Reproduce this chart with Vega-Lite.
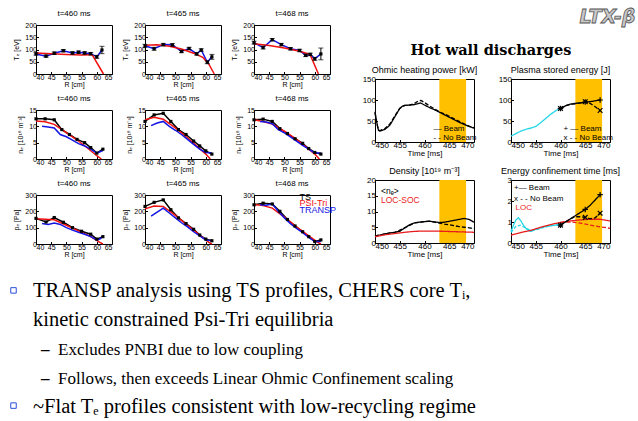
{
"$schema":"https://vega.github.io/schema/vega-lite/v6.json",
"background":"white",
"padding":{"left":8,"top":7,"right":0,"bottom":0},
"autosize":{"type":"pad"},
"datasets":{
"prof":[
{"p":"Te460","s":"TS","R":40,"v":82,"e":5},{"p":"Te460","s":"TS","R":43.3,"v":73,"e":5},{"p":"Te460","s":"TS","R":46,"v":85,"e":5},{"p":"Te460","s":"TS","R":49,"v":95,"e":5},{"p":"Te460","s":"TS","R":52,"v":86,"e":5},{"p":"Te460","s":"TS","R":54,"v":89,"e":5},{"p":"Te460","s":"TS","R":56,"v":86,"e":5},{"p":"Te460","s":"TS","R":58,"v":83,"e":5},{"p":"Te460","s":"TS","R":60,"v":70,"e":6},{"p":"Te460","s":"TS","R":61.7,"v":98,"e":15},
{"p":"Te460","s":"PSI-Tri","R":40,"v":86},{"p":"Te460","s":"PSI-Tri","R":45,"v":83},{"p":"Te460","s":"PSI-Tri","R":50,"v":80},{"p":"Te460","s":"PSI-Tri","R":55,"v":78},{"p":"Te460","s":"PSI-Tri","R":58,"v":79},{"p":"Te460","s":"PSI-Tri","R":58.6,"v":76},{"p":"Te460","s":"PSI-Tri","R":62.2,"v":0},
{"p":"Te465","s":"TS","R":40,"v":115,"e":6},{"p":"Te465","s":"TS","R":43,"v":103,"e":6},{"p":"Te465","s":"TS","R":46,"v":120,"e":5},{"p":"Te465","s":"TS","R":49,"v":119,"e":5},{"p":"Te465","s":"TS","R":52,"v":92,"e":5},{"p":"Te465","s":"TS","R":54.5,"v":104,"e":5},{"p":"Te465","s":"TS","R":57,"v":82,"e":5},{"p":"Te465","s":"TS","R":58.5,"v":98,"e":5},{"p":"Te465","s":"TS","R":60.5,"v":48,"e":6},{"p":"Te465","s":"TS","R":62,"v":70,"e":10},
{"p":"Te465","s":"PSI-Tri","R":40,"v":117},{"p":"Te465","s":"PSI-Tri","R":44,"v":119},{"p":"Te465","s":"PSI-Tri","R":48,"v":113},{"p":"Te465","s":"PSI-Tri","R":52,"v":102},{"p":"Te465","s":"PSI-Tri","R":56,"v":85},{"p":"Te465","s":"PSI-Tri","R":59,"v":68},{"p":"Te465","s":"PSI-Tri","R":61,"v":40},{"p":"Te465","s":"PSI-Tri","R":62.8,"v":0},
{"p":"Te468","s":"TS","R":40,"v":128,"e":6},{"p":"Te468","s":"TS","R":43,"v":108,"e":6},{"p":"Te468","s":"TS","R":46,"v":140,"e":5},{"p":"Te468","s":"TS","R":49,"v":120,"e":5},{"p":"Te468","s":"TS","R":52,"v":103,"e":5},{"p":"Te468","s":"TS","R":55,"v":96,"e":5},{"p":"Te468","s":"TS","R":57,"v":76,"e":5},{"p":"Te468","s":"TS","R":58.5,"v":80,"e":5},{"p":"Te468","s":"TS","R":60,"v":62,"e":6},{"p":"Te468","s":"TS","R":62,"v":82,"e":24},
{"p":"Te468","s":"PSI-Tri","R":40,"v":123},{"p":"Te468","s":"PSI-Tri","R":45,"v":116},{"p":"Te468","s":"PSI-Tri","R":50,"v":106},{"p":"Te468","s":"PSI-Tri","R":55,"v":93},{"p":"Te468","s":"PSI-Tri","R":58,"v":82},{"p":"Te468","s":"PSI-Tri","R":58.5,"v":78},{"p":"Te468","s":"PSI-Tri","R":61.2,"v":0},
{"p":"ne460","s":"TS","R":40,"v":12.3},{"p":"ne460","s":"TS","R":43,"v":12.3},{"p":"ne460","s":"TS","R":46,"v":12},{"p":"ne460","s":"TS","R":48.5,"v":9},{"p":"ne460","s":"TS","R":51,"v":7.5},{"p":"ne460","s":"TS","R":53.5,"v":6},{"p":"ne460","s":"TS","R":56,"v":5},{"p":"ne460","s":"TS","R":58,"v":3.5},{"p":"ne460","s":"TS","R":60,"v":1.8},{"p":"ne460","s":"TS","R":62,"v":3},
{"p":"ne460","s":"PSI-Tri","R":40,"v":11.6},{"p":"ne460","s":"PSI-Tri","R":43,"v":11.4},{"p":"ne460","s":"PSI-Tri","R":46,"v":10.6},{"p":"ne460","s":"PSI-Tri","R":50,"v":8.1},{"p":"ne460","s":"PSI-Tri","R":54,"v":5.5},{"p":"ne460","s":"PSI-Tri","R":57,"v":3.3},{"p":"ne460","s":"PSI-Tri","R":60,"v":1},{"p":"ne460","s":"PSI-Tri","R":61.5,"v":0},
{"p":"ne460","s":"TRANSP","R":42,"v":10},{"p":"ne460","s":"TRANSP","R":44,"v":9.8},{"p":"ne460","s":"TRANSP","R":46,"v":9.5},{"p":"ne460","s":"TRANSP","R":48,"v":7.5},{"p":"ne460","s":"TRANSP","R":50,"v":6.8},{"p":"ne460","s":"TRANSP","R":52,"v":5.8},{"p":"ne460","s":"TRANSP","R":54,"v":4.7},{"p":"ne460","s":"TRANSP","R":56,"v":4},{"p":"ne460","s":"TRANSP","R":58,"v":3},{"p":"ne460","s":"TRANSP","R":60,"v":1.8},{"p":"ne460","s":"TRANSP","R":62,"v":2.6},
{"p":"ne465","s":"TS","R":40,"v":11.5},{"p":"ne465","s":"TS","R":43,"v":13.5},{"p":"ne465","s":"TS","R":46,"v":14},{"p":"ne465","s":"TS","R":48.5,"v":11.5},{"p":"ne465","s":"TS","R":51,"v":9},{"p":"ne465","s":"TS","R":53.5,"v":7.5},{"p":"ne465","s":"TS","R":56,"v":5.5},{"p":"ne465","s":"TS","R":58,"v":4},{"p":"ne465","s":"TS","R":60,"v":2.5},{"p":"ne465","s":"TS","R":62,"v":1.5},
{"p":"ne465","s":"PSI-Tri","R":40,"v":12},{"p":"ne465","s":"PSI-Tri","R":43,"v":12.8},{"p":"ne465","s":"PSI-Tri","R":46,"v":12.2},{"p":"ne465","s":"PSI-Tri","R":50,"v":9.5},{"p":"ne465","s":"PSI-Tri","R":54,"v":6.5},{"p":"ne465","s":"PSI-Tri","R":57,"v":4},{"p":"ne465","s":"PSI-Tri","R":60,"v":1.5},{"p":"ne465","s":"PSI-Tri","R":61.5,"v":0},
{"p":"ne465","s":"TRANSP","R":42,"v":10.2},{"p":"ne465","s":"TRANSP","R":44,"v":11},{"p":"ne465","s":"TRANSP","R":46,"v":11.5},{"p":"ne465","s":"TRANSP","R":48,"v":10},{"p":"ne465","s":"TRANSP","R":50,"v":8.8},{"p":"ne465","s":"TRANSP","R":52,"v":7.5},{"p":"ne465","s":"TRANSP","R":54,"v":6},{"p":"ne465","s":"TRANSP","R":56,"v":4.5},{"p":"ne465","s":"TRANSP","R":58,"v":3},{"p":"ne465","s":"TRANSP","R":60,"v":2},{"p":"ne465","s":"TRANSP","R":62,"v":1.8},
{"p":"ne468","s":"TS","R":40,"v":12},{"p":"ne468","s":"TS","R":43,"v":12.2},{"p":"ne468","s":"TS","R":46,"v":11.5},{"p":"ne468","s":"TS","R":48.5,"v":9.3},{"p":"ne468","s":"TS","R":51,"v":7.8},{"p":"ne468","s":"TS","R":53.5,"v":6.2},{"p":"ne468","s":"TS","R":56,"v":4.8},{"p":"ne468","s":"TS","R":58,"v":3.2},{"p":"ne468","s":"TS","R":60,"v":2},{"p":"ne468","s":"TS","R":62,"v":1.5},
{"p":"ne468","s":"PSI-Tri","R":40,"v":12},{"p":"ne468","s":"PSI-Tri","R":43,"v":11.5},{"p":"ne468","s":"PSI-Tri","R":46,"v":10.7},{"p":"ne468","s":"PSI-Tri","R":50,"v":8.5},{"p":"ne468","s":"PSI-Tri","R":54,"v":6},{"p":"ne468","s":"PSI-Tri","R":57,"v":3.8},{"p":"ne468","s":"PSI-Tri","R":60,"v":1.5},{"p":"ne468","s":"PSI-Tri","R":61.5,"v":0},
{"p":"ne468","s":"TRANSP","R":42,"v":11.5},{"p":"ne468","s":"TRANSP","R":44,"v":11.3},{"p":"ne468","s":"TRANSP","R":46,"v":10.8},{"p":"ne468","s":"TRANSP","R":48,"v":9},{"p":"ne468","s":"TRANSP","R":50,"v":8},{"p":"ne468","s":"TRANSP","R":52,"v":6.8},{"p":"ne468","s":"TRANSP","R":54,"v":5.5},{"p":"ne468","s":"TRANSP","R":56,"v":4.2},{"p":"ne468","s":"TRANSP","R":58,"v":3},{"p":"ne468","s":"TRANSP","R":60,"v":1.8},{"p":"ne468","s":"TRANSP","R":62,"v":1.8},
{"p":"pe460","s":"TS","R":40,"v":157},{"p":"pe460","s":"TS","R":43.3,"v":135},{"p":"pe460","s":"TS","R":46,"v":162},{"p":"pe460","s":"TS","R":49,"v":133},{"p":"pe460","s":"TS","R":52,"v":100},{"p":"pe460","s":"TS","R":55,"v":78},{"p":"pe460","s":"TS","R":58,"v":60},{"p":"pe460","s":"TS","R":60,"v":30},{"p":"pe460","s":"TS","R":62,"v":45},
{"p":"pe460","s":"PSI-Tri","R":40,"v":155},{"p":"pe460","s":"PSI-Tri","R":43,"v":152},{"p":"pe460","s":"PSI-Tri","R":46,"v":148},{"p":"pe460","s":"PSI-Tri","R":50,"v":115},{"p":"pe460","s":"PSI-Tri","R":54,"v":80},{"p":"pe460","s":"PSI-Tri","R":58,"v":45},{"p":"pe460","s":"PSI-Tri","R":61,"v":10},{"p":"pe460","s":"PSI-Tri","R":62,"v":0},
{"p":"pe460","s":"TRANSP","R":42,"v":125},{"p":"pe460","s":"TRANSP","R":44,"v":120},{"p":"pe460","s":"TRANSP","R":46,"v":128},{"p":"pe460","s":"TRANSP","R":48,"v":120},{"p":"pe460","s":"TRANSP","R":50,"v":100},{"p":"pe460","s":"TRANSP","R":52,"v":85},{"p":"pe460","s":"TRANSP","R":54,"v":72},{"p":"pe460","s":"TRANSP","R":56,"v":60},{"p":"pe460","s":"TRANSP","R":58,"v":45},{"p":"pe460","s":"TRANSP","R":60,"v":25},{"p":"pe460","s":"TRANSP","R":61,"v":30},{"p":"pe460","s":"TRANSP","R":62,"v":45},
{"p":"pe465","s":"TS","R":40,"v":230},{"p":"pe465","s":"TS","R":43,"v":255},{"p":"pe465","s":"TS","R":46,"v":270},{"p":"pe465","s":"TS","R":48.5,"v":210},{"p":"pe465","s":"TS","R":51,"v":160},{"p":"pe465","s":"TS","R":53.5,"v":125},{"p":"pe465","s":"TS","R":56,"v":90},{"p":"pe465","s":"TS","R":58,"v":55},{"p":"pe465","s":"TS","R":60,"v":30},{"p":"pe465","s":"TS","R":62,"v":20},
{"p":"pe465","s":"PSI-Tri","R":40,"v":215},{"p":"pe465","s":"PSI-Tri","R":43,"v":232},{"p":"pe465","s":"PSI-Tri","R":46,"v":230},{"p":"pe465","s":"PSI-Tri","R":50,"v":175},{"p":"pe465","s":"PSI-Tri","R":54,"v":115},{"p":"pe465","s":"PSI-Tri","R":58,"v":55},{"p":"pe465","s":"PSI-Tri","R":61,"v":10},{"p":"pe465","s":"PSI-Tri","R":62,"v":0},
{"p":"pe465","s":"TRANSP","R":42,"v":170},{"p":"pe465","s":"TRANSP","R":44,"v":195},{"p":"pe465","s":"TRANSP","R":46,"v":220},{"p":"pe465","s":"TRANSP","R":48,"v":190},{"p":"pe465","s":"TRANSP","R":50,"v":160},{"p":"pe465","s":"TRANSP","R":52,"v":130},{"p":"pe465","s":"TRANSP","R":54,"v":105},{"p":"pe465","s":"TRANSP","R":56,"v":75},{"p":"pe465","s":"TRANSP","R":58,"v":50},{"p":"pe465","s":"TRANSP","R":60,"v":25},{"p":"pe465","s":"TRANSP","R":62,"v":20},
{"p":"pe468","s":"TS","R":40,"v":240},{"p":"pe468","s":"TS","R":43,"v":250},{"p":"pe468","s":"TS","R":46,"v":245},{"p":"pe468","s":"TS","R":48.5,"v":200},{"p":"pe468","s":"TS","R":51,"v":150},{"p":"pe468","s":"TS","R":53.5,"v":110},{"p":"pe468","s":"TS","R":56,"v":75},{"p":"pe468","s":"TS","R":58,"v":45},{"p":"pe468","s":"TS","R":60,"v":15},{"p":"pe468","s":"TS","R":62,"v":25},
{"p":"pe468","s":"PSI-Tri","R":40,"v":242},{"p":"pe468","s":"PSI-Tri","R":43,"v":235},{"p":"pe468","s":"PSI-Tri","R":46,"v":220},{"p":"pe468","s":"PSI-Tri","R":50,"v":165},{"p":"pe468","s":"PSI-Tri","R":54,"v":105},{"p":"pe468","s":"PSI-Tri","R":58,"v":50},{"p":"pe468","s":"PSI-Tri","R":61,"v":10},{"p":"pe468","s":"PSI-Tri","R":62,"v":0},
{"p":"pe468","s":"TRANSP","R":42,"v":240},{"p":"pe468","s":"TRANSP","R":44,"v":238},{"p":"pe468","s":"TRANSP","R":46,"v":245},{"p":"pe468","s":"TRANSP","R":48,"v":200},{"p":"pe468","s":"TRANSP","R":50,"v":160},{"p":"pe468","s":"TRANSP","R":52,"v":125},{"p":"pe468","s":"TRANSP","R":54,"v":95},{"p":"pe468","s":"TRANSP","R":56,"v":70},{"p":"pe468","s":"TRANSP","R":58,"v":40},{"p":"pe468","s":"TRANSP","R":60,"v":15},{"p":"pe468","s":"TRANSP","R":62,"v":15},
{"p":"pe468","s":"TS","R":55,"v":288,"label":"TS"},{"p":"pe468","s":"PSI-Tri","R":55,"v":248,"label":"PSI-Tri"},{"p":"pe468","s":"TRANSP","R":55,"v":208,"label":"TRANSP"}
],
"time":[
{"p":"ohm","s":"Beam","t":450,"v":72},{"p":"ohm","s":"Beam","t":450.3,"v":50},{"p":"ohm","s":"Beam","t":450.7,"v":28},{"p":"ohm","s":"Beam","t":451,"v":26},{"p":"ohm","s":"Beam","t":452,"v":30},{"p":"ohm","s":"Beam","t":453,"v":40},{"p":"ohm","s":"Beam","t":454,"v":60},{"p":"ohm","s":"Beam","t":455,"v":80},{"p":"ohm","s":"Beam","t":455.5,"v":85},{"p":"ohm","s":"Beam","t":456,"v":87},{"p":"ohm","s":"Beam","t":457,"v":88},{"p":"ohm","s":"Beam","t":458,"v":89},{"p":"ohm","s":"Beam","t":458.6,"v":91},{"p":"ohm","s":"Beam","t":459.2,"v":93},{"p":"ohm","s":"Beam","t":460,"v":88},{"p":"ohm","s":"Beam","t":461,"v":82},{"p":"ohm","s":"Beam","t":462,"v":77},{"p":"ohm","s":"Beam","t":463,"v":71},{"p":"ohm","s":"Beam","t":464,"v":65},{"p":"ohm","s":"Beam","t":465,"v":59},{"p":"ohm","s":"Beam","t":466,"v":53},{"p":"ohm","s":"Beam","t":467,"v":47},{"p":"ohm","s":"Beam","t":468,"v":42},{"p":"ohm","s":"Beam","t":469,"v":37},{"p":"ohm","s":"Beam","t":470,"v":33},
{"p":"ohm","s":"No Beam","t":450,"v":70},{"p":"ohm","s":"No Beam","t":450.3,"v":48},{"p":"ohm","s":"No Beam","t":450.7,"v":28},{"p":"ohm","s":"No Beam","t":451,"v":27},{"p":"ohm","s":"No Beam","t":452,"v":32},{"p":"ohm","s":"No Beam","t":453,"v":43},{"p":"ohm","s":"No Beam","t":454,"v":62},{"p":"ohm","s":"No Beam","t":455,"v":80},{"p":"ohm","s":"No Beam","t":456,"v":87},{"p":"ohm","s":"No Beam","t":457,"v":88},{"p":"ohm","s":"No Beam","t":458,"v":92},{"p":"ohm","s":"No Beam","t":458.8,"v":98},{"p":"ohm","s":"No Beam","t":459.3,"v":99},{"p":"ohm","s":"No Beam","t":460,"v":94},{"p":"ohm","s":"No Beam","t":461,"v":86},{"p":"ohm","s":"No Beam","t":462,"v":79},{"p":"ohm","s":"No Beam","t":463,"v":72},{"p":"ohm","s":"No Beam","t":464,"v":67},{"p":"ohm","s":"No Beam","t":465,"v":61},{"p":"ohm","s":"No Beam","t":466,"v":55},{"p":"ohm","s":"No Beam","t":467,"v":49},{"p":"ohm","s":"No Beam","t":468,"v":43},{"p":"ohm","s":"No Beam","t":469,"v":38},{"p":"ohm","s":"No Beam","t":470,"v":34},
{"p":"wst","s":"Pre","t":450,"v":14},{"p":"wst","s":"Pre","t":451,"v":20},{"p":"wst","s":"Pre","t":452,"v":26},{"p":"wst","s":"Pre","t":453,"v":30},{"p":"wst","s":"Pre","t":454,"v":33},{"p":"wst","s":"Pre","t":455,"v":37},{"p":"wst","s":"Pre","t":456,"v":46},{"p":"wst","s":"Pre","t":457,"v":56},{"p":"wst","s":"Pre","t":458,"v":66},{"p":"wst","s":"Pre","t":459,"v":74},{"p":"wst","s":"Pre","t":460,"v":82},
{"p":"wst","s":"Beam","t":460,"v":80},{"p":"wst","s":"Beam","t":461,"v":86},{"p":"wst","s":"Beam","t":462,"v":90},{"p":"wst","s":"Beam","t":463,"v":92},{"p":"wst","s":"Beam","t":464,"v":93},{"p":"wst","s":"Beam","t":465,"v":95},{"p":"wst","s":"Beam","t":466,"v":96},{"p":"wst","s":"Beam","t":467,"v":98},{"p":"wst","s":"Beam","t":468,"v":100},
{"p":"wst","s":"No Beam","t":460,"v":80},{"p":"wst","s":"No Beam","t":461,"v":86},{"p":"wst","s":"No Beam","t":462,"v":90},{"p":"wst","s":"No Beam","t":463,"v":91},{"p":"wst","s":"No Beam","t":464,"v":93},{"p":"wst","s":"No Beam","t":465,"v":96},{"p":"wst","s":"No Beam","t":466,"v":92},{"p":"wst","s":"No Beam","t":467,"v":84},{"p":"wst","s":"No Beam","t":468,"v":75},
{"p":"den","s":"Beam","t":450,"v":2.2},{"p":"den","s":"Beam","t":451,"v":2.5},{"p":"den","s":"Beam","t":452,"v":2.9},{"p":"den","s":"Beam","t":453,"v":3.2},{"p":"den","s":"Beam","t":454,"v":3.4},{"p":"den","s":"Beam","t":455,"v":3.7},{"p":"den","s":"Beam","t":456,"v":4.8},{"p":"den","s":"Beam","t":457,"v":5.8},{"p":"den","s":"Beam","t":458,"v":6.4},{"p":"den","s":"Beam","t":459,"v":6.6},{"p":"den","s":"Beam","t":460,"v":6.8},{"p":"den","s":"Beam","t":461,"v":6.9},{"p":"den","s":"Beam","t":462,"v":6.7},{"p":"den","s":"Beam","t":463,"v":6.5},{"p":"den","s":"Beam","t":464,"v":6.6},{"p":"den","s":"Beam","t":465,"v":6.9},{"p":"den","s":"Beam","t":466,"v":7.2},{"p":"den","s":"Beam","t":467,"v":7.5},{"p":"den","s":"Beam","t":468,"v":7.8},{"p":"den","s":"Beam","t":469,"v":7.5},{"p":"den","s":"Beam","t":470,"v":6.6},
{"p":"den","s":"No Beam","t":450,"v":2.2},{"p":"den","s":"No Beam","t":452,"v":2.9},{"p":"den","s":"No Beam","t":454,"v":3.4},{"p":"den","s":"No Beam","t":456,"v":4.8},{"p":"den","s":"No Beam","t":458,"v":6.4},{"p":"den","s":"No Beam","t":460,"v":6.8},{"p":"den","s":"No Beam","t":461,"v":6.9},{"p":"den","s":"No Beam","t":462,"v":6.6},{"p":"den","s":"No Beam","t":463,"v":6.3},{"p":"den","s":"No Beam","t":464,"v":6.0},{"p":"den","s":"No Beam","t":465,"v":5.8},{"p":"den","s":"No Beam","t":466,"v":5.5},{"p":"den","s":"No Beam","t":467,"v":5.2},{"p":"den","s":"No Beam","t":468,"v":5.0},{"p":"den","s":"No Beam","t":469,"v":4.8},{"p":"den","s":"No Beam","t":470,"v":4.6},
{"p":"den","s":"LOC","t":450,"v":2.0},{"p":"den","s":"LOC","t":452,"v":2.6},{"p":"den","s":"LOC","t":454,"v":3.0},{"p":"den","s":"LOC","t":456,"v":3.4},{"p":"den","s":"LOC","t":458,"v":3.7},{"p":"den","s":"LOC","t":460,"v":3.8},{"p":"den","s":"LOC","t":462,"v":3.8},{"p":"den","s":"LOC","t":464,"v":3.7},{"p":"den","s":"LOC","t":466,"v":3.6},{"p":"den","s":"LOC","t":468,"v":3.5},{"p":"den","s":"LOC","t":470,"v":3.4},
{"p":"tau","s":"Pre","t":450,"v":0.55},{"p":"tau","s":"Pre","t":450.5,"v":0.85},{"p":"tau","s":"Pre","t":451,"v":1.1},{"p":"tau","s":"Pre","t":451.5,"v":1.2},{"p":"tau","s":"Pre","t":452,"v":1.05},{"p":"tau","s":"Pre","t":452.5,"v":0.85},{"p":"tau","s":"Pre","t":453,"v":0.7},{"p":"tau","s":"Pre","t":453.5,"v":0.6},{"p":"tau","s":"Pre","t":454,"v":0.55},{"p":"tau","s":"Pre","t":455,"v":0.65},{"p":"tau","s":"Pre","t":456,"v":0.72},{"p":"tau","s":"Pre","t":457,"v":0.78},{"p":"tau","s":"Pre","t":458,"v":0.82},{"p":"tau","s":"Pre","t":459,"v":0.85},{"p":"tau","s":"Pre","t":460,"v":0.85},
{"p":"tau","s":"Pre NB","t":450,"v":0.5},{"p":"tau","s":"Pre NB","t":451,"v":0.8},{"p":"tau","s":"Pre NB","t":452,"v":0.85},{"p":"tau","s":"Pre NB","t":453,"v":0.7},{"p":"tau","s":"Pre NB","t":454,"v":0.6},{"p":"tau","s":"Pre NB","t":455,"v":0.62},{"p":"tau","s":"Pre NB","t":456,"v":0.7},{"p":"tau","s":"Pre NB","t":457,"v":0.77},{"p":"tau","s":"Pre NB","t":458,"v":0.82},{"p":"tau","s":"Pre NB","t":459,"v":0.86},{"p":"tau","s":"Pre NB","t":460,"v":0.88},
{"p":"tau","s":"LOC","t":450,"v":0.38},{"p":"tau","s":"LOC","t":452,"v":0.5},{"p":"tau","s":"LOC","t":454,"v":0.6},{"p":"tau","s":"LOC","t":456,"v":0.75},{"p":"tau","s":"LOC","t":458,"v":0.88},{"p":"tau","s":"LOC","t":460,"v":0.98},{"p":"tau","s":"LOC","t":462,"v":1.05},{"p":"tau","s":"LOC","t":464,"v":1.1},{"p":"tau","s":"LOC","t":466,"v":1.13},{"p":"tau","s":"LOC","t":468,"v":1.13},{"p":"tau","s":"LOC","t":470,"v":1.05},
{"p":"tau","s":"LOC NB","t":460,"v":0.98},{"p":"tau","s":"LOC NB","t":462,"v":1.0},{"p":"tau","s":"LOC NB","t":464,"v":0.95},{"p":"tau","s":"LOC NB","t":466,"v":0.85},{"p":"tau","s":"LOC NB","t":468,"v":0.77},{"p":"tau","s":"LOC NB","t":470,"v":0.7},
{"p":"tau","s":"Beam","t":460,"v":0.85},{"p":"tau","s":"Beam","t":461,"v":1.0},{"p":"tau","s":"Beam","t":462,"v":1.15},{"p":"tau","s":"Beam","t":463,"v":1.3},{"p":"tau","s":"Beam","t":464,"v":1.45},{"p":"tau","s":"Beam","t":465,"v":1.6},{"p":"tau","s":"Beam","t":466,"v":1.8},{"p":"tau","s":"Beam","t":467,"v":2.05},{"p":"tau","s":"Beam","t":468,"v":2.3},
{"p":"tau","s":"No Beam","t":460,"v":0.85},{"p":"tau","s":"No Beam","t":461,"v":1.0},{"p":"tau","s":"No Beam","t":462,"v":1.15},{"p":"tau","s":"No Beam","t":463,"v":1.25},{"p":"tau","s":"No Beam","t":464,"v":1.25},{"p":"tau","s":"No Beam","t":465,"v":1.22},{"p":"tau","s":"No Beam","t":466,"v":1.15},{"p":"tau","s":"No Beam","t":467,"v":1.2},{"p":"tau","s":"No Beam","t":468,"v":1.42}
],
"win":[{"t0":463,"t1":468.4}],
"ann":[
{"p":"ohm","s":"Beam","t":461.8,"v":30,"label":"— Beam"},
{"p":"ohm","s":"No Beam","t":461.8,"v":10,"label":"- - No Beam"},
{"p":"wst","s":"Beam","t":460.6,"v":30,"label":"+ — Beam"},
{"p":"wst","s":"No Beam","t":460.6,"v":9,"label":"x - - No Beam"},
{"p":"den","s":"Beam","t":451.2,"v":16.4,"label":"<nₑ>"},
{"p":"den","s":"LOC","t":451.2,"v":13.8,"label":"LOC-SOC"},
{"p":"tau","s":"Beam","t":450.6,"v":2.6,"label":"+— Beam"},
{"p":"tau","s":"No Beam","t":450.6,"v":2.1,"label":"x - - No Beam"},
{"p":"tau","s":"LOC","t":450.9,"v":1.68,"label":"LOC"}
],
"bul":[
{"row":1,"level":0,"kind":"bullet"},
{"row":1,"level":0,"kind":"text","txt":"TRANSP analysis using TS profiles, CHERS core Tᵢ,"},
{"row":2,"level":0,"kind":"text","txt":"kinetic constrained Psi-Tri equilibria"},
{"row":3,"level":1,"kind":"dash","txt":"–"},
{"row":3,"level":1,"kind":"text","txt":"Excludes PNBI due to low coupling"},
{"row":4,"level":1,"kind":"dash","txt":"–"},
{"row":4,"level":1,"kind":"text","txt":"Follows, then exceeds Linear Ohmic Confinement scaling"},
{"row":5,"level":0,"kind":"bullet"},
{"row":5,"level":0,"kind":"text","txt":"~Flat Tₑ profiles consistent with low-recycling regime"}
]
},
"vconcat":[
{"hconcat":[
 {"concat":[
   {"title":"t=460 ms","width":76,"height":49,"data":{"name":"prof"},"transform":[{"filter":"datum.p=='Te460'"}],
    "encoding":{"x":{"field":"R","type":"quantitative","scale":{"domain":[40,65]},"axis":{"values":[40,45,50,55,60,65],"title":"R [cm]"}},"y":{"field":"v","type":"quantitative","scale":{"domain":[0,200]},"axis":{"values":[0,50,100,150,200],"title":"Tₑ [eV]"}},"color":{"field":"s","type":"nominal","scale":{"domain":["TS","PSI-Tri","TRANSP"],"range":["#000000","#f01010","#1414e6"]},"legend":null}},
    "layer":[
     {"transform":[{"filter":"datum.s=='TS'"}],"mark":{"type":"line","strokeWidth":1.5},"encoding":{"color":{"value":"#1414e6"}}},
     {"transform":[{"filter":"datum.s=='PSI-Tri'"}],"mark":{"type":"line","strokeWidth":1.5}},
     {"transform":[{"filter":"datum.s=='TS'"}],"mark":{"type":"errorbar","ticks":true},"encoding":{"yError":{"field":"e"}}},
     {"transform":[{"filter":"datum.s=='TS'"}],"mark":{"type":"point","shape":"square","filled":true,"size":10,"opacity":1}}
    ]},
   {"title":"t=465 ms","width":76,"height":49,"data":{"name":"prof"},"transform":[{"filter":"datum.p=='Te465'"}],
    "encoding":{"x":{"field":"R","type":"quantitative","scale":{"domain":[40,65]},"axis":{"values":[40,45,50,55,60,65],"title":"R [cm]"}},"y":{"field":"v","type":"quantitative","scale":{"domain":[0,200]},"axis":{"values":[0,50,100,150,200],"title":"Tₑ [eV]"}},"color":{"field":"s","type":"nominal","scale":{"domain":["TS","PSI-Tri","TRANSP"],"range":["#000000","#f01010","#1414e6"]},"legend":null}},
    "layer":[
     {"transform":[{"filter":"datum.s=='TS'"}],"mark":{"type":"line","strokeWidth":1.5},"encoding":{"color":{"value":"#1414e6"}}},
     {"transform":[{"filter":"datum.s=='PSI-Tri'"}],"mark":{"type":"line","strokeWidth":1.5}},
     {"transform":[{"filter":"datum.s=='TS'"}],"mark":{"type":"errorbar","ticks":true},"encoding":{"yError":{"field":"e"}}},
     {"transform":[{"filter":"datum.s=='TS'"}],"mark":{"type":"point","shape":"square","filled":true,"size":10,"opacity":1}}
    ]},
   {"title":"t=468 ms","width":76,"height":49,"data":{"name":"prof"},"transform":[{"filter":"datum.p=='Te468'"}],
    "encoding":{"x":{"field":"R","type":"quantitative","scale":{"domain":[40,65]},"axis":{"values":[40,45,50,55,60,65],"title":"R [cm]"}},"y":{"field":"v","type":"quantitative","scale":{"domain":[0,200]},"axis":{"values":[0,50,100,150,200],"title":"Tₑ [eV]"}},"color":{"field":"s","type":"nominal","scale":{"domain":["TS","PSI-Tri","TRANSP"],"range":["#000000","#f01010","#1414e6"]},"legend":null}},
    "layer":[
     {"transform":[{"filter":"datum.s=='TS'"}],"mark":{"type":"line","strokeWidth":1.5},"encoding":{"color":{"value":"#1414e6"}}},
     {"transform":[{"filter":"datum.s=='PSI-Tri'"}],"mark":{"type":"line","strokeWidth":1.5}},
     {"transform":[{"filter":"datum.s=='TS'"}],"mark":{"type":"errorbar","ticks":true},"encoding":{"yError":{"field":"e"}}},
     {"transform":[{"filter":"datum.s=='TS'"}],"mark":{"type":"point","shape":"square","filled":true,"size":10,"opacity":1}}
    ]},
   {"title":"t=460 ms","width":76,"height":49,"data":{"name":"prof"},"transform":[{"filter":"datum.p=='ne460'"}],
    "encoding":{"x":{"field":"R","type":"quantitative","scale":{"domain":[40,65]},"axis":{"values":[40,45,50,55,60,65],"title":"R [cm]"}},"y":{"field":"v","type":"quantitative","scale":{"domain":[0,15]},"axis":{"values":[0,5,10,15],"title":"nₑ [10¹⁸ m⁻³]"}},"color":{"field":"s","type":"nominal","scale":{"domain":["TS","PSI-Tri","TRANSP"],"range":["#000000","#f01010","#1414e6"]},"legend":null}},
    "layer":[
     {"mark":{"type":"line","strokeWidth":1.5}},
     {"transform":[{"filter":"datum.s=='TS'"}],"mark":{"type":"point","shape":"square","filled":true,"size":10,"opacity":1}}
    ]},
   {"title":"t=465 ms","width":76,"height":49,"data":{"name":"prof"},"transform":[{"filter":"datum.p=='ne465'"}],
    "encoding":{"x":{"field":"R","type":"quantitative","scale":{"domain":[40,65]},"axis":{"values":[40,45,50,55,60,65],"title":"R [cm]"}},"y":{"field":"v","type":"quantitative","scale":{"domain":[0,15]},"axis":{"values":[0,5,10,15],"title":"nₑ [10¹⁸ m⁻³]"}},"color":{"field":"s","type":"nominal","scale":{"domain":["TS","PSI-Tri","TRANSP"],"range":["#000000","#f01010","#1414e6"]},"legend":null}},
    "layer":[
     {"mark":{"type":"line","strokeWidth":1.5}},
     {"transform":[{"filter":"datum.s=='TS'"}],"mark":{"type":"point","shape":"square","filled":true,"size":10,"opacity":1}}
    ]},
   {"title":"t=468 ms","width":76,"height":49,"data":{"name":"prof"},"transform":[{"filter":"datum.p=='ne468'"}],
    "encoding":{"x":{"field":"R","type":"quantitative","scale":{"domain":[40,65]},"axis":{"values":[40,45,50,55,60,65],"title":"R [cm]"}},"y":{"field":"v","type":"quantitative","scale":{"domain":[0,15]},"axis":{"values":[0,5,10,15],"title":"nₑ [10¹⁸ m⁻³]"}},"color":{"field":"s","type":"nominal","scale":{"domain":["TS","PSI-Tri","TRANSP"],"range":["#000000","#f01010","#1414e6"]},"legend":null}},
    "layer":[
     {"mark":{"type":"line","strokeWidth":1.5}},
     {"transform":[{"filter":"datum.s=='TS'"}],"mark":{"type":"point","shape":"square","filled":true,"size":10,"opacity":1}}
    ]},
   {"title":"t=460 ms","width":76,"height":49,"data":{"name":"prof"},"transform":[{"filter":"datum.p=='pe460'"}],
    "encoding":{"x":{"field":"R","type":"quantitative","scale":{"domain":[40,65]},"axis":{"values":[40,45,50,55,60,65],"title":"R [cm]"}},"y":{"field":"v","type":"quantitative","scale":{"domain":[0,300]},"axis":{"values":[0,100,200,300],"title":"pₑ [Pa]"}},"color":{"field":"s","type":"nominal","scale":{"domain":["TS","PSI-Tri","TRANSP"],"range":["#000000","#f01010","#1414e6"]},"legend":null}},
    "layer":[
     {"mark":{"type":"line","strokeWidth":1.5}},
     {"transform":[{"filter":"datum.s=='TS'"}],"mark":{"type":"point","shape":"square","filled":true,"size":10,"opacity":1}}
    ]},
   {"title":"t=465 ms","width":76,"height":49,"data":{"name":"prof"},"transform":[{"filter":"datum.p=='pe465'"}],
    "encoding":{"x":{"field":"R","type":"quantitative","scale":{"domain":[40,65]},"axis":{"values":[40,45,50,55,60,65],"title":"R [cm]"}},"y":{"field":"v","type":"quantitative","scale":{"domain":[0,300]},"axis":{"values":[0,100,200,300],"title":"pₑ [Pa]"}},"color":{"field":"s","type":"nominal","scale":{"domain":["TS","PSI-Tri","TRANSP"],"range":["#000000","#f01010","#1414e6"]},"legend":null}},
    "layer":[
     {"mark":{"type":"line","strokeWidth":1.5}},
     {"transform":[{"filter":"datum.s=='TS'"}],"mark":{"type":"point","shape":"square","filled":true,"size":10,"opacity":1}}
    ]},
   {"title":"t=468 ms","width":76,"height":49,"data":{"name":"prof"},"transform":[{"filter":"datum.p=='pe468'"}],
    "encoding":{"x":{"field":"R","type":"quantitative","scale":{"domain":[40,65]},"axis":{"values":[40,45,50,55,60,65],"title":"R [cm]"}},"y":{"field":"v","type":"quantitative","scale":{"domain":[0,300]},"axis":{"values":[0,100,200,300],"title":"pₑ [Pa]"}},"color":{"field":"s","type":"nominal","scale":{"domain":["TS","PSI-Tri","TRANSP"],"range":["#000000","#f01010","#1414e6"]},"legend":null}},
    "layer":[
     {"transform":[{"filter":"!datum.label"}],"mark":{"type":"line","strokeWidth":1.5}},
     {"transform":[{"filter":"datum.s=='TS' && !datum.label"}],"mark":{"type":"point","shape":"square","filled":true,"size":10,"opacity":1}},
     {"transform":[{"filter":"datum.label"}],"mark":{"type":"text","align":"left","baseline":"middle","fontSize":9},"encoding":{"text":{"field":"label"}}}
    ]}
 ],"columns":3,"spacing":{"row":36,"column":33},"bounds":"flush"},
 {"vconcat":[
  {"width":235,"height":37,"view":{"stroke":null},"data":{"values":[{}]},
   "layer":[
    {"mark":{"type":"text","font":"DejaVu Serif","fontWeight":"bold","fontSize":14.5,"dx":-1.5,"dy":7.5,"color":"#000000"},"encoding":{"text":{"value":"Hot wall discharges"}}},
    {"mark":{"type":"text","font":"DejaVu Sans","fontStyle":"italic","fontWeight":"bold","fontSize":19,"dx":115,"dy":-27,"color":"#c8c8c8","stroke":"#555555","strokeWidth":0.8},"encoding":{"text":{"value":"LTX-β"}}}
   ]},
  {"concat":[
    {"title":{"text":"Ohmic heating power [kW]","fontSize":9,"offset":0},"width":99,"height":63,
     "encoding":{"x":{"field":"t","type":"quantitative","scale":{"domain":[450,470]},"axis":{"values":[450,455,460,465,470],"title":"Time [ms]","labelFontSize":8,"titleFontSize":8,"labelOverlap":false}},"y":{"field":"v","type":"quantitative","scale":{"domain":[0,150]},"axis":{"values":[0,50,100,150],"title":null,"labelFontSize":8,"labelOverlap":false}},"color":{"field":"s","type":"nominal","scale":{"domain":["Beam","No Beam","Pre","Pre NB","LOC","LOC NB"],"range":["#000000","#000000","#22d6e6","#22d6e6","#e81c1c","#e81c1c"]},"legend":null}},
     "layer":[
      {"data":{"name":"win"},"mark":{"type":"rect","color":"#FFC000"},"encoding":{"x":{"field":"t0","type":"quantitative"},"x2":{"field":"t1"},"y":{"value":0},"y2":{"value":"height"},"color":{"value":"#FFC000"}}},
      {"data":{"name":"time"},"transform":[{"filter":"datum.p=='ohm'"}],"mark":{"type":"line","strokeWidth":1.3},"encoding":{"strokeDash":{"field":"s","type":"nominal","scale":{"domain":["Beam","No Beam","Pre","Pre NB","LOC","LOC NB"],"range":[[1,0],[4,2],[1,0],[3,2],[1,0],[4,2]]},"legend":null}}},
      {"data":{"name":"ann"},"transform":[{"filter":"datum.p=='ohm'"}],"mark":{"type":"text","align":"left","baseline":"middle","fontSize":8},"encoding":{"text":{"field":"label"}}}
     ]},
    {"title":{"text":"Plasma stored energy [J]","fontSize":9,"offset":0},"width":99,"height":63,
     "encoding":{"x":{"field":"t","type":"quantitative","scale":{"domain":[450,470]},"axis":{"values":[450,455,460,465,470],"title":"Time [ms]","labelFontSize":8,"titleFontSize":8,"labelOverlap":false}},"y":{"field":"v","type":"quantitative","scale":{"domain":[0,150]},"axis":{"values":[0,50,100,150],"title":null,"labelFontSize":8,"labelOverlap":false}},"color":{"field":"s","type":"nominal","scale":{"domain":["Beam","No Beam","Pre","Pre NB","LOC","LOC NB"],"range":["#000000","#000000","#22d6e6","#22d6e6","#e81c1c","#e81c1c"]},"legend":null}},
     "layer":[
      {"data":{"name":"win"},"mark":{"type":"rect","color":"#FFC000"},"encoding":{"x":{"field":"t0","type":"quantitative"},"x2":{"field":"t1"},"y":{"value":0},"y2":{"value":"height"},"color":{"value":"#FFC000"}}},
      {"data":{"name":"time"},"transform":[{"filter":"datum.p=='wst'"}],"mark":{"type":"line","strokeWidth":1.3},"encoding":{"strokeDash":{"field":"s","type":"nominal","scale":{"domain":["Beam","No Beam","Pre","Pre NB","LOC","LOC NB"],"range":[[1,0],[4,2],[1,0],[3,2],[1,0],[4,2]]},"legend":null}}},
      {"data":{"name":"time"},"transform":[{"filter":"datum.p=='wst' && datum.s=='Beam' && (datum.t==460 || datum.t==465 || datum.t==468)"}],"mark":{"type":"point","shape":"M-1,0H1M0,-1V1","filled":false,"strokeWidth":1.2,"size":30,"opacity":1}},
      {"data":{"name":"time"},"transform":[{"filter":"datum.p=='wst' && datum.s=='No Beam' && (datum.t==460 || datum.t==465 || datum.t==468)"}],"mark":{"type":"point","shape":"M-1,-1L1,1M-1,1L1,-1","filled":false,"strokeWidth":1.2,"size":22,"opacity":1}},
      {"data":{"name":"ann"},"transform":[{"filter":"datum.p=='wst'"}],"mark":{"type":"text","align":"left","baseline":"middle","fontSize":8},"encoding":{"text":{"field":"label"}}}
     ]},
    {"title":{"text":"Density [10¹⁹ m⁻³]","fontSize":9,"offset":0},"width":99,"height":63,
     "encoding":{"x":{"field":"t","type":"quantitative","scale":{"domain":[450,470]},"axis":{"values":[450,455,460,465,470],"title":"Time [ms]","labelFontSize":8,"titleFontSize":8,"labelOverlap":false}},"y":{"field":"v","type":"quantitative","scale":{"domain":[0,20]},"axis":{"values":[0,5,10,15,20],"title":null,"labelFontSize":8,"labelOverlap":false}},"color":{"field":"s","type":"nominal","scale":{"domain":["Beam","No Beam","Pre","Pre NB","LOC","LOC NB"],"range":["#000000","#000000","#22d6e6","#22d6e6","#e81c1c","#e81c1c"]},"legend":null}},
     "layer":[
      {"data":{"name":"win"},"mark":{"type":"rect","color":"#FFC000"},"encoding":{"x":{"field":"t0","type":"quantitative"},"x2":{"field":"t1"},"y":{"value":0},"y2":{"value":"height"},"color":{"value":"#FFC000"}}},
      {"data":{"name":"time"},"transform":[{"filter":"datum.p=='den'"}],"mark":{"type":"line","strokeWidth":1.3},"encoding":{"strokeDash":{"field":"s","type":"nominal","scale":{"domain":["Beam","No Beam","Pre","Pre NB","LOC","LOC NB"],"range":[[1,0],[4,2],[1,0],[3,2],[1,0],[4,2]]},"legend":null}}},
      {"data":{"name":"ann"},"transform":[{"filter":"datum.p=='den'"}],"mark":{"type":"text","align":"left","baseline":"middle","fontSize":8.5},"encoding":{"text":{"field":"label"}}}
     ]},
    {"title":{"text":"Energy confinement time [ms]","fontSize":9,"offset":0},"width":99,"height":63,
     "encoding":{"x":{"field":"t","type":"quantitative","scale":{"domain":[450,470]},"axis":{"values":[450,455,460,465,470],"title":"Time [ms]","labelFontSize":8,"titleFontSize":8,"labelOverlap":false}},"y":{"field":"v","type":"quantitative","scale":{"domain":[0,3]},"axis":{"values":[0,1,2,3],"title":null,"labelFontSize":8,"labelOverlap":false}},"color":{"field":"s","type":"nominal","scale":{"domain":["Beam","No Beam","Pre","Pre NB","LOC","LOC NB"],"range":["#000000","#000000","#22d6e6","#22d6e6","#e81c1c","#e81c1c"]},"legend":null}},
     "layer":[
      {"data":{"name":"win"},"mark":{"type":"rect","color":"#FFC000"},"encoding":{"x":{"field":"t0","type":"quantitative"},"x2":{"field":"t1"},"y":{"value":0},"y2":{"value":"height"},"color":{"value":"#FFC000"}}},
      {"data":{"name":"time"},"transform":[{"filter":"datum.p=='tau'"}],"mark":{"type":"line","strokeWidth":1.3},"encoding":{"strokeDash":{"field":"s","type":"nominal","scale":{"domain":["Beam","No Beam","Pre","Pre NB","LOC","LOC NB"],"range":[[1,0],[4,2],[1,0],[3,2],[1,0],[4,2]]},"legend":null}}},
      {"data":{"name":"time"},"transform":[{"filter":"datum.p=='tau' && datum.s=='Beam' && (datum.t==460 || datum.t==465 || datum.t==468)"}],"mark":{"type":"point","shape":"M-1,0H1M0,-1V1","filled":false,"strokeWidth":1.2,"size":30,"opacity":1}},
      {"data":{"name":"time"},"transform":[{"filter":"datum.p=='tau' && datum.s=='No Beam' && (datum.t==460 || datum.t==465 || datum.t==468)"}],"mark":{"type":"point","shape":"M-1,-1L1,1M-1,1L1,-1","filled":false,"strokeWidth":1.2,"size":22,"opacity":1}},
      {"data":{"name":"ann"},"transform":[{"filter":"datum.p=='tau'"}],"mark":{"type":"text","align":"left","baseline":"middle","fontSize":8},"encoding":{"text":{"field":"label"}}}
     ]}
  ],"columns":2,"spacing":{"row":38,"column":37},"bounds":"flush"}
 ],"spacing":3}
],"spacing":24,"resolve":{"scale":{"color":"independent","strokeDash":"independent"}}},
{"width":600,"height":144,"view":{"stroke":null},"data":{"name":"bul"},
 "encoding":{"x":{"field":"level","type":"quantitative","scale":{"domain":[0,1],"range":[-3,22]},"axis":null},"y":{"field":"row","type":"ordinal","axis":null}},
 "layer":[
  {"transform":[{"filter":"datum.kind=='text' && datum.level==0"}],"mark":{"type":"text","align":"left","baseline":"alphabetic","font":"Liberation Serif","fontSize":20.5,"color":"#000000"},"encoding":{"text":{"field":"txt"}}},
  {"transform":[{"filter":"datum.kind=='text' && datum.level==1"}],"mark":{"type":"text","align":"left","baseline":"alphabetic","font":"Liberation Serif","fontSize":17,"color":"#000000"},"encoding":{"text":{"field":"txt"}}},
  {"transform":[{"filter":"datum.kind=='dash'"}],"mark":{"type":"text","align":"left","baseline":"alphabetic","font":"Liberation Serif","fontSize":17,"fontWeight":"bold","dx":-17,"color":"#000000"},"encoding":{"text":{"field":"txt"}}},
  {"transform":[{"filter":"datum.kind=='bullet'"}],"mark":{"type":"point","shape":"square","filled":false,"stroke":"#2a4fd8","strokeWidth":1,"size":30,"opacity":1,"xOffset":-19.5,"yOffset":-7}}
 ]}
],
"spacing":22,
"config":{
 "font":"Liberation Sans",
 "view":{"stroke":"#000000","strokeWidth":1},
 "axis":{"grid":false,"domain":false,"ticks":true,"tickSize":-2.5,"tickColor":"#000000","labelFont":"Liberation Sans","labelFontSize":7,"labelColor":"#000000","labelPadding":2,"labelOverlap":false,"titleFont":"Liberation Sans","titleFontSize":7,"titleFontWeight":"normal","titleColor":"#000000"},
 "axisX":{"titlePadding":0},
 "axisY":{"titlePadding":5},
 "title":{"font":"Liberation Sans","fontSize":8,"fontWeight":"normal","offset":3,"color":"#000000"},
 "text":{"font":"Liberation Sans"}
}
}
